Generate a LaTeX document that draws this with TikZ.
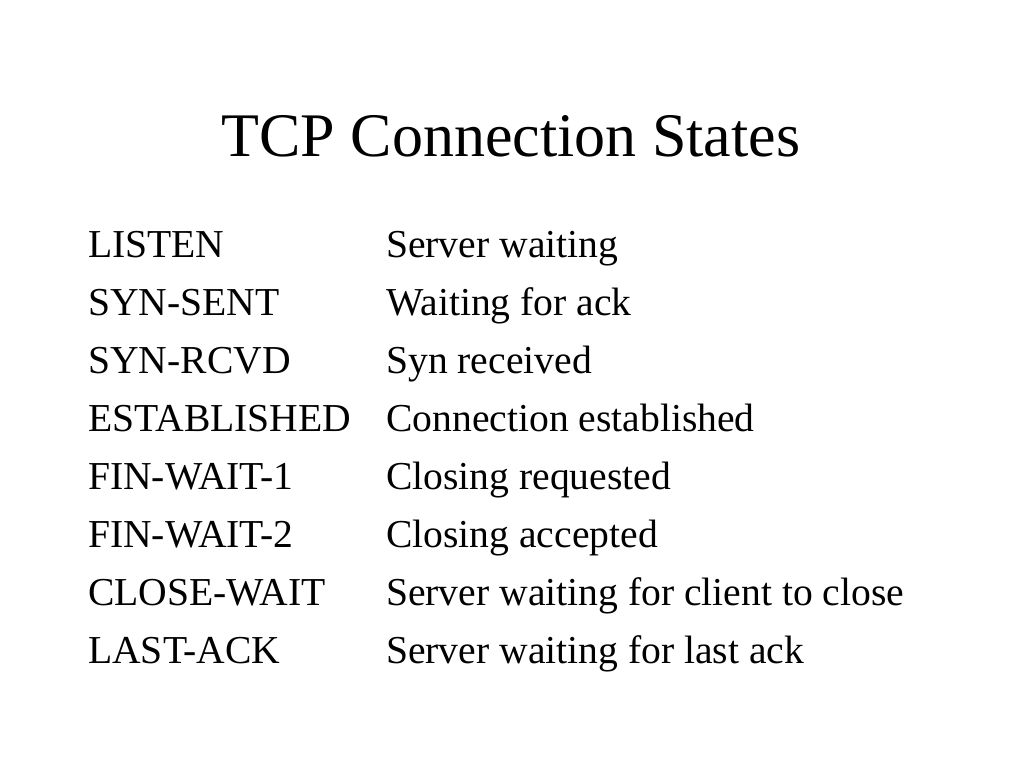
\documentclass[tikz,border=0pt]{standalone}
\usepackage{fontspec}
\setmainfont{Liberation Serif}
\begin{document}
\begin{tikzpicture}[x=1pt,y=-1pt,
  titletext/.style={anchor=base,inner sep=0pt,font=\fontsize{62}{70}\selectfont},
  statetext/.style={anchor=base west,inner sep=0pt,font=\fontsize{39.6}{46}\selectfont}]
\useasboundingbox (0,0) rectangle (1024,768);
\node[titletext] (title) at (511,156) {TCP Connection States};
\foreach \s/\d [count=\i from 0] in {LISTEN/Server waiting,SYN-SENT/Waiting for ack,SYN-RCVD/Syn received,ESTABLISHED/Connection established,FIN-WAIT-1/Closing requested,FIN-WAIT-2/Closing accepted,CLOSE-WAIT/Server waiting for client to close,LAST-ACK/Server waiting for last ack}{
  \node[statetext] (s\i) at (88,257+58*\i) {\s};
  \node[statetext] (d\i) at (386,257+58*\i) {\d};
}
\end{tikzpicture}
\end{document}
